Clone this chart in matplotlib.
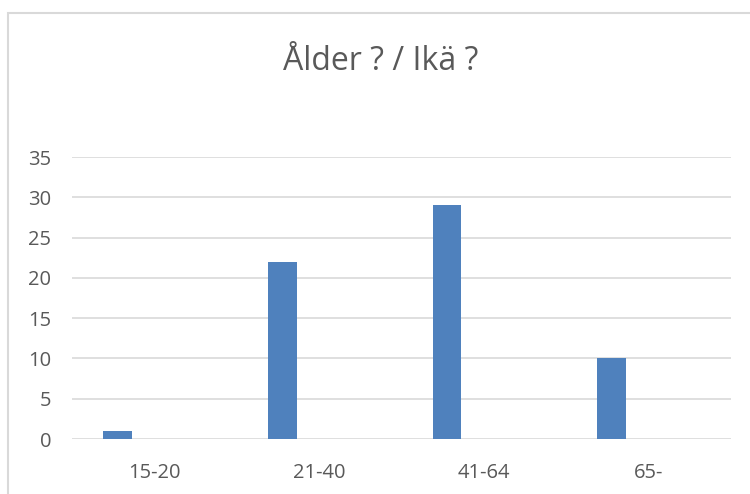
import numpy as np
import matplotlib.pyplot as plt
from matplotlib.patches import Rectangle

categories = ["15-20", "21-40", "41-64", "65-"]
counts = [1, 22, 29, 10]
yticks = [0, 5, 10, 15, 20, 25, 30, 35]

W, H = 750, 494
plt.rcParams['font.family'] = ['Open Sans', 'DejaVu Sans']
text_col = '#595959'
grid_col = '#d9d9d9'

fig = plt.figure(figsize=(W / 100, H / 100), dpi=100)

# chart frame (runs off the right and bottom edge)
fig.patches.append(Rectangle((7.5 / W, -0.1), 1.2, 1 - 12.5 / H + 0.1,
                             transform=fig.transFigure, fill=False,
                             edgecolor=grid_col, lw=1.5))

ax = fig.add_axes([72 / W, 1 - 439 / H, (731 - 72) / W, (439 - 157) / H])
x = np.arange(len(categories))
# bars sit left of the category centre, like the first of two series
ax.bar(x - 0.224, counts, width=0.174, color='#4f81bd', zorder=3)

ax.set_xlim(-0.5, len(categories) - 0.5)
ax.set_ylim(0, 35)
ax.set_yticks(yticks)
ax.set_xticks(x, categories)
ax.grid(axis='y', color=grid_col, lw=1.2, zorder=0)
for s in ax.spines.values():
    s.set_visible(False)
ax.tick_params(length=0, labelsize=14.5, colors=text_col)
ax.tick_params(axis='y', pad=15)
ax.tick_params(axis='x', pad=17)

fig.text(381 / W, 1 - 61 / H, "Ålder ? / Ikä ?", ha='center', va='center',
         fontsize=23, color=text_col)

fig.savefig("out.png", dpi=100)
